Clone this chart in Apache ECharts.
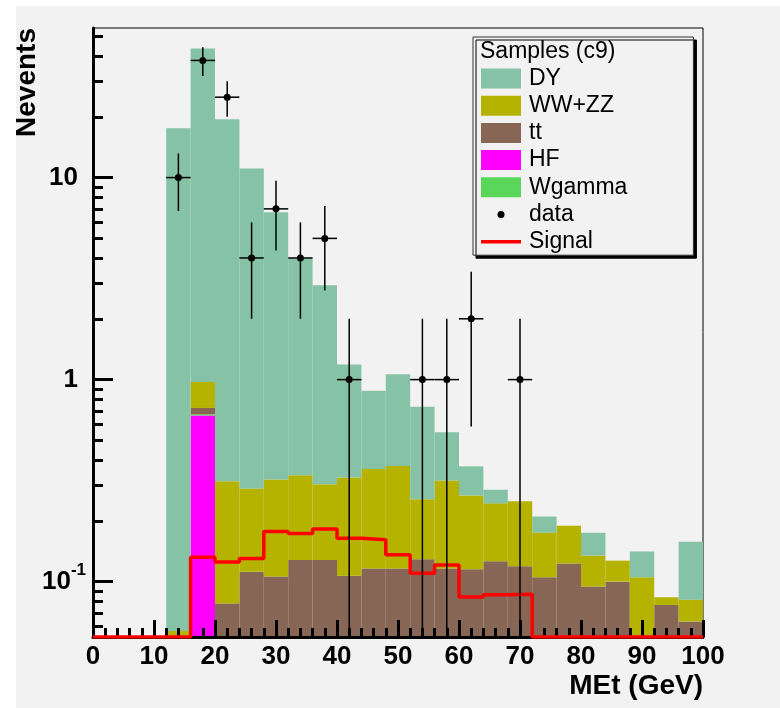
<!DOCTYPE html>
<html>
<head>
<meta charset="utf-8">
<script src="https://cdn.jsdelivr.net/npm/echarts@6/dist/echarts.min.js"></script>
<style>
  html, body { margin: 0; padding: 0; background: #ffffff; }
  #chart { position: absolute; left: 16px; top: 6px; width: 764px; height: 702px; background: #f2f2f2; }
</style>
</head>
<body>
<div id="chart"></div>
<script>
// bins of 4 GeV, lower edges
const binLow = [0, 4, 8, 12, 16, 20, 24, 28, 32, 36, 40, 44, 48, 52, 56, 60, 64, 68, 72, 76, 80, 84, 88, 92, 96];
const binWidth = 4;

// per-sample contributions (stacked bottom -> top: HF, Wgamma, tt, WW+ZZ, DY)
const hfValues = [0, 0, 0, 0, 0.664, 0, 0, 0, 0, 0, 0, 0, 0, 0, 0, 0, 0, 0, 0, 0, 0, 0, 0, 0, 0];
const wgammaValues = [0, 0, 0, 0, 0.009, 0, 0, 0, 0, 0, 0, 0, 0, 0, 0, 0, 0, 0, 0, 0, 0, 0, 0, 0, 0];
const ttValues = [0, 0, 0, 0, 0.051, 0.078, 0.112, 0.106, 0.128, 0.128, 0.107, 0.116, 0.116, 0.129, 0.116, 0.115, 0.126, 0.119, 0.105, 0.123, 0.0945, 0.100, 0, 0.0767, 0.0634];
const wwzzValues = [0, 0, 0, 0.057, 0.25, 0.236, 0.177, 0.214, 0.208, 0.175, 0.221, 0.245, 0.258, 0.127, 0.201, 0.152, 0.118, 0.131, 0.070, 0.066, 0.040, 0.027, 0.105, 0.007, 0.018];
const dyValues = [0, 0, 0, 17.5, 42.6, 19.1, 10.8, 6.41, 3.64, 2.63, 0.86, 0.52, 0.69, 0.477, 0.231, 0.105, 0.041, 0, 0.035, 0, 0.040, 0, 0.036, 0, 0.076];

const dataCounts = [0, 0, 0, 10, 38, 25, 4, 7, 4, 5, 1, 0, 0, 1, 1, 2, 0, 1, 0, 0, 0, 0, 0, 0, 0];
const signalValues = [0, 0, 0, 0, 0.132, 0.125, 0.130, 0.177, 0.173, 0.182, 0.164, 0.161, 0.136, 0.110, 0.121, 0.084, 0.086, 0.0865, 0, 0, 0, 0, 0, 0, 0];

const yMajorTicks = [0.1, 1, 10];
const yMinorTicks = [0.06, 0.07, 0.08, 0.09, 0.2, 0.3, 0.4, 0.5, 0.6, 0.7, 0.8, 0.9, 2, 3, 4, 5, 6, 7, 8, 9, 20, 30, 40, 50];

const yMin = 0.0532;
const yMax = 55;
const FONT = 'Liberation Sans, Arial, Helvetica, sans-serif';

const stackDefs = [
  { name: 'HF', values: hfValues, color: '#ff00ff' },
  { name: 'Wgamma', values: wgammaValues, color: '#5ad65a' },
  { name: 'tt', values: ttValues, color: '#876656' },
  { name: 'WW+ZZ', values: wwzzValues, color: '#b5b300' },
  { name: 'DY', values: dyValues, color: '#86c2a5' }
];

// build cumulative rectangles [x0, x1, bottom, top]
const cumulative = binLow.map(() => 0);
const stackSeries = stackDefs.map(def => {
  const rects = [];
  binLow.forEach((x, i) => {
    const bottom = cumulative[i];
    const top = bottom + def.values[i];
    cumulative[i] = top;
    if (def.values[i] > 0 && top > yMin) {
      rects.push([x, x + binWidth, Math.max(bottom, yMin), top]);
    }
  });
  return {
    name: def.name,
    type: 'custom',
    clip: true,
    z: 1,
    itemStyle: { color: def.color },
    encode: { x: [0, 1], y: [2, 3] },
    data: rects,
    renderItem: function (params, api) {
      const p1 = api.coord([api.value(0), api.value(3)]);
      const p2 = api.coord([api.value(1), api.value(2)]);
      return {
        type: 'rect',
        shape: { x: p1[0], y: p1[1], width: p2[0] - p1[0], height: p2[1] - p1[1] },
        style: { fill: def.color }
      };
    }
  };
});

const dataPoints = [];
binLow.forEach((x, i) => {
  if (dataCounts[i] > 0) dataPoints.push([x + binWidth / 2, dataCounts[i]]);
});

const signalLine = binLow.map((x, i) => [x, signalValues[i] > 0 ? signalValues[i] : yMin]);
signalLine.push([binLow[binLow.length - 1] + binWidth, signalLine[signalLine.length - 1][1]]);

const chart = echarts.init(document.getElementById('chart'));

chart.setOption({
  backgroundColor: 'transparent',
  animation: false,
  title: {
    text: 'Samples (c9)',
    left: 464,
    top: 34,
    padding: 0,
    textStyle: { fontFamily: FONT, fontSize: 23, fontWeight: 'normal', color: '#000', lineHeight: 23 }
  },
  legend: {
    orient: 'vertical',
    left: 457,
    top: 31,
    padding: [30, 66, 2, 8],
    itemWidth: 40,
    itemHeight: 20,
    itemGap: 4.2,
    selectedMode: false,
    backgroundColor: '#f2f2f2',
    borderColor: '#333',
    borderWidth: 1,
    borderRadius: 0,
    shadowColor: '#000',
    shadowBlur: 0,
    shadowOffsetX: 3,
    shadowOffsetY: 3,
    textStyle: { fontFamily: FONT, fontSize: 23, color: '#000', padding: [0, 0, 0, 3] },
    data: [
      { name: 'DY', icon: 'rect' },
      { name: 'WW+ZZ', icon: 'rect' },
      { name: 'tt', icon: 'rect' },
      { name: 'HF', icon: 'rect' },
      { name: 'Wgamma', icon: 'rect' },
      { name: 'data', icon: 'path://M0,0M40,20M16.5,10A3.5,3.5 0 1,0 23.5,10A3.5,3.5 0 1,0 16.5,10Z' },
      { name: 'Signal', icon: 'path://M0,0M40,20M0,8.2L40,8.2L40,11.8L0,11.8Z' }
    ]
  },
  grid: {
    left: 77,
    top: 22,
    width: 610,
    height: 609,
    show: true,
    borderColor: '#000',
    borderWidth: 1,
    backgroundColor: 'transparent'
  },
  graphic: [{
    type: 'text',
    x: 11.5,
    y: 22,
    rotation: Math.PI / 2,
    style: {
      text: 'Nevents',
      fontFamily: FONT,
      fontSize: 28,
      fontWeight: 'bold',
      fill: '#000',
      align: 'right',
      verticalAlign: 'middle'
    }
  }],
  xAxis: {
    type: 'value',
    min: 0,
    max: 100,
    interval: 10,
    z: 5,
    name: 'MEt (GeV)',
    nameLocation: 'end',
    nameGap: 0,
    nameTextStyle: {
      fontFamily: FONT, fontSize: 28, fontWeight: 'bold', color: '#000',
      align: 'right', verticalAlign: 'top', padding: [35, 0, 0, 0]
    },
    axisLine: { show: true, onZero: false, lineStyle: { color: '#000', width: 3 } },
    axisTick: { show: true, inside: true, length: 17, lineStyle: { color: '#000', width: 3 } },
    minorTick: { show: true, splitNumber: 5, length: 9, lineStyle: { color: '#000', width: 3 } },
    axisLabel: { fontFamily: FONT, fontSize: 26, fontWeight: 'bold', color: '#000', margin: 7 },
    splitLine: { show: false },
    minorSplitLine: { show: false }
  },
  yAxis: [{
    type: 'log',
    logBase: 10,
    min: yMin,
    max: yMax,
    z: 5,
    axisLine: { show: true, lineStyle: { color: '#000', width: 3 } },
    axisTick: { show: true, inside: true, length: 20, customValues: yMajorTicks, lineStyle: { color: '#000', width: 3 } },
    axisLabel: {
      customValues: yMajorTicks,
      margin: 7,
      formatter: function (v) {
        if (Math.abs(Math.log10(v) + 1) < 1e-6) return '{b|10}{s|-1}';
        return '{m|' + Math.round(v) + '}';
      },
      rich: {
        m: { fontFamily: FONT, fontSize: 26, fontWeight: 'bold', color: '#000', padding: [0, 8, 0, 0] },
        b: { fontFamily: FONT, fontSize: 26, fontWeight: 'bold', color: '#000', lineHeight: 40 },
        s: { fontFamily: FONT, fontSize: 17, fontWeight: 'bold', color: '#000', lineHeight: 18, verticalAlign: 'top' }
      }
    },
    splitLine: { show: false }
  }, {
    type: 'log',
    logBase: 10,
    min: yMin,
    max: yMax,
    z: 5,
    position: 'left',
    axisLine: { show: false },
    axisTick: { show: true, inside: true, length: 10, customValues: yMinorTicks, lineStyle: { color: '#000', width: 3 } },
    axisLabel: { show: false },
    splitLine: { show: false }
  }],
  series: stackSeries.concat([
    {
      name: 'Signal',
      type: 'line',
      step: 'end',
      symbol: 'none',
      clip: true,
      z: 6,
      color: '#ff0000',
      lineStyle: { color: '#ff0000', width: 3.5 },
      data: signalLine
    },
    {
      name: 'data',
      type: 'custom',
      clip: true,
      z: 7,
      itemStyle: { color: '#000' },
      encode: { x: 0, y: 1 },
      data: dataPoints,
      renderItem: function (params, api) {
        const x = api.value(0);
        const n = api.value(1);
        const err = Math.sqrt(n);
        const lo = Math.max(n - err, yMin);
        const c = api.coord([x, n]);
        const pHi = api.coord([x, n + err]);
        const pLo = api.coord([x, lo]);
        const pL = api.coord([x - binWidth / 2, n]);
        const pR = api.coord([x + binWidth / 2, n]);
        const lineStyle = { stroke: '#000', lineWidth: 1.5 };
        return {
          type: 'group',
          children: [
            { type: 'line', shape: { x1: c[0], y1: pHi[1], x2: c[0], y2: pLo[1] }, style: lineStyle },
            { type: 'line', shape: { x1: pL[0], y1: c[1], x2: pR[0], y2: c[1] }, style: lineStyle },
            { type: 'circle', shape: { cx: c[0], cy: c[1], r: 3.5 }, style: { fill: '#000' } }
          ]
        };
      }
    }
  ])
});
</script>
</body>
</html>
